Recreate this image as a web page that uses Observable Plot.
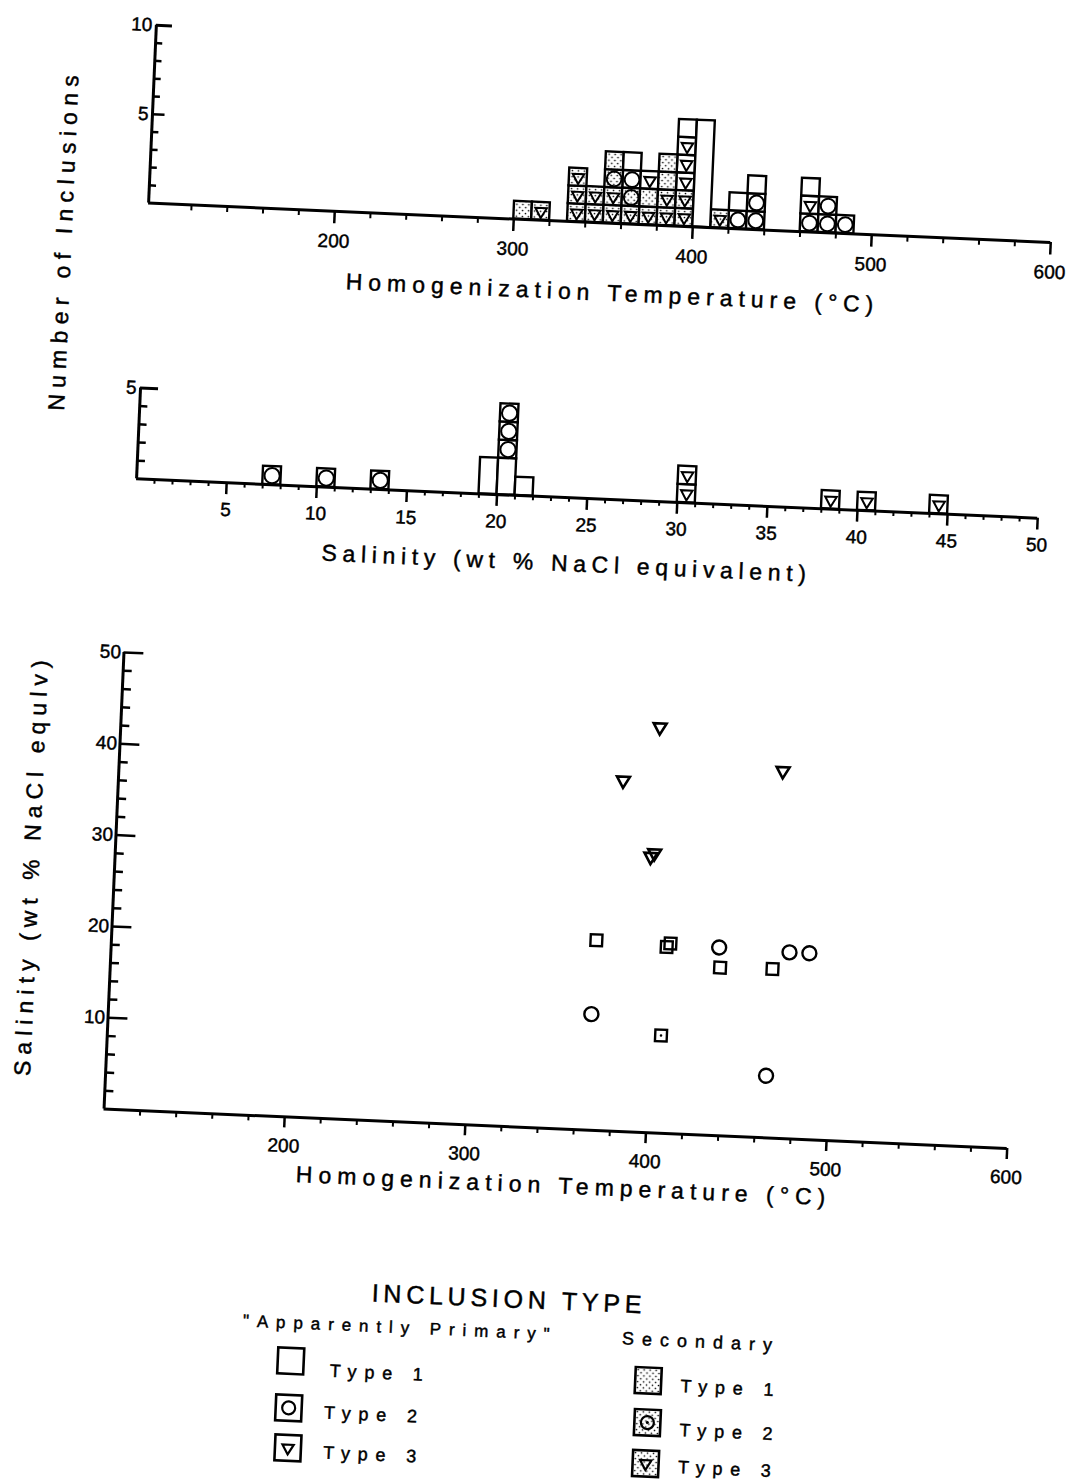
<!DOCTYPE html>
<html><head><meta charset="utf-8">
<script src="https://cdn.jsdelivr.net/npm/d3@7"></script>
<script src="https://cdn.jsdelivr.net/npm/@observablehq/plot@0.6"></script>
<style>
html,body{margin:0;padding:0;background:#fff;overflow:hidden;}
#fig{position:relative;width:1070px;height:1483px;transform:rotate(2.5deg);transform-origin:535px 741px;}
#fig text{stroke:black;stroke-width:0.45px;}
</style></head><body>
<svg width="0" height="0" style="position:absolute">
<defs>
<pattern id="stip" width="6" height="6" patternUnits="userSpaceOnUse">
<rect width="6" height="6" fill="white"/>
<circle cx="1.5" cy="1.5" r="0.85" fill="black"/>
<circle cx="4.5" cy="4.5" r="0.85" fill="black"/>
</pattern>
</defs></svg>
<div id="fig"></div>
<script>
// ---------- DATA ----------
// Panel 1: number of inclusions per 10 °C homogenization-temperature bin, cells listed bottom -> top
// P = apparently primary, S = secondary; 1 = type 1, 2 = type 2, 3 = type 3
const tempBins = [300, 310, 330, 340, 350, 360, 370, 380, 390, 400, 410, 420, 430, 460, 470, 480];
const tempStacks = [
  ["S1"], ["S3"], ["S3","S3","S3"], ["S3","S3"], ["S3","S3","S2","S1"], ["S3","S2","P2","P1"],
  ["S3","S1","P3"], ["S3","S3","S1","S1"], ["S3","S3","P3","P3","P3","P1"], ["P1","P1","P1","P1","P1","P1"],
  ["S3"], ["P2","P1"], ["P2","P2","P1"], ["P2","P3","P1"], ["P2","P2"], ["P2"]
];
// Panel 2: number of inclusions per 1 wt% salinity bin
const salBins = [7, 10, 13, 19, 20, 21, 30, 38, 40, 44];
const salStacks = [["P2"], ["P2"], ["P2"], ["P1","P1"], ["P1","P1","P2","P2","P2"], ["P1"], ["P3","P3"], ["P3"], ["P3"], ["P3"]];
// Panel 3: salinity vs homogenization temperature
const ptTemp = [398, 379, 467, 398, 396, 368, 407, 409, 436, 437, 466, 475, 486, 367, 406, 465];
const ptSal  = [44.4, 38.4, 40.2, 30.6, 30.2, 20.8, 20.4, 20.8, 20.6, 18.4, 18.5, 20.4, 20.4, 12.7, 10.7, 6.8];
const ptType = ["P3","P3","P3","P3","P3","P1","P1","P1","P2","P1","P1","P2","P2","P2","S1","P2"];
// Tick labels
const tempTicks = [200, 300, 400, 500, 600];
const salTicks = [5, 10, 15, 20, 25, 30, 35, 40, 45, 50];
const countTicks1 = [5, 10];
const countTicks2 = [5];
const salYTicks = [10, 20, 30, 40, 50];

// ---------- helpers ----------
const F = "'Liberation Sans', Arial, Helvetica, sans-serif";
const fig = document.getElementById("fig");
const baseStyle = {fontFamily: F, fontSize: "19px", background: "transparent", overflow: "visible", color: "black"};

function buildCells(bins, stacks, w) {
  const cells = [], runs = [];
  bins.forEach((b, i) => {
    let run = null;
    stacks[i].forEach((t, k) => {
      if (t === "P1") {
        if (run && run.y2 === k) run.y2 = k + 1;
        else { run = {x1: b, x2: b + w, y1: k, y2: k + 1}; runs.push(run); }
      } else {
        run = null;
        cells.push({x1: b, x2: b + w, y1: k, y2: k + 1, cx: b + w / 2, cy: k + 0.5, type: t});
      }
    });
  });
  return {cells, runs};
}

function histMarks({cells, runs}, rc, rt) {
  return [
    Plot.rect(cells.filter(d => d.type[0] === "P"), {x1: "x1", x2: "x2", y1: "y1", y2: "y2", fill: "white", stroke: "black", strokeWidth: 2.4}),
    Plot.rect(cells.filter(d => d.type[0] === "S"), {x1: "x1", x2: "x2", y1: "y1", y2: "y2", fill: "url(#stip)", stroke: "black", strokeWidth: 2.4}),
    Plot.rect(runs, {x1: "x1", x2: "x2", y1: "y1", y2: "y2", fill: "white", stroke: "black", strokeWidth: 2.4}),
    Plot.dot(cells.filter(d => d.type[1] === "2"), {x: "cx", y: "cy", r: rc, fill: "none", stroke: "black", strokeWidth: 2}),
    Plot.dot(cells.filter(d => d.type[1] === "3"), {x: "cx", y: "cy", symbol: "triangle", rotate: 180, r: rt, fill: "none", stroke: "black", strokeWidth: 2})
  ];
}

function place(node, top) {
  node.style.position = "absolute";
  node.style.left = "0px";
  node.style.top = top + "px";
  fig.appendChild(node);
}

// ---------- Panel 1 ----------
const h1 = buildCells(tempBins, tempStacks, 10);
const tempMinor = d3.range(120, 600, 20).filter(d => d % 100 !== 0);
const p1 = Plot.plot({
  width: 1070, height: 305, marginTop: 42, marginBottom: 85, marginLeft: 125, marginRight: 42,
  x: {domain: [96, 600], axis: null}, y: {domain: [0, 10], axis: null},
  style: baseStyle,
  marks: [
    ...histMarks(h1, 7.4, 4.3),
    Plot.ruleY([0], {x1: () => 96, x2: () => 600, strokeWidth: 3}),
    Plot.ruleX([96], {y1: () => 0, y2: () => 10, strokeWidth: 3}),
    Plot.ruleY(d3.range(1, 10), {x1: () => 96, x2: d => 96 + (d === 5 ? 7 : 4), strokeWidth: 2.5}),
    Plot.ruleY([10], {x1: () => 96, x2: () => 105, strokeWidth: 3}),
    Plot.ruleX(tempMinor, {y1: () => 0, y2: () => -0.33, strokeWidth: 2}),
    Plot.ruleX(tempTicks, {y1: () => 0, y2: () => -0.7, strokeWidth: 2.5}),
    Plot.text(tempTicks, {x: d => d, y: () => 0, dy: 30, text: d => String(d)}),
    Plot.text(countTicks1, {x: () => 96, y: d => d, dx: -4, textAnchor: "end", text: d => String(d)})
  ]
});
place(p1, 0);

// ---------- Panel 2 ----------
const h2 = buildCells(salBins, salStacks, 1);
const salMinor = d3.range(1, 50, 1).filter(d => d % 5 !== 0);
const p2 = Plot.plot({
  width: 1070, height: 215, marginTop: 35, marginBottom: 89, marginLeft: 125, marginRight: 43,
  x: {domain: [0, 50], axis: null}, y: {domain: [0, 5], axis: null},
  style: baseStyle,
  marks: [
    ...histMarks(h2, 7.6, 4.3),
    Plot.ruleY([0], {x1: () => 0, x2: () => 50, strokeWidth: 3}),
    Plot.ruleX([0], {y1: () => 0, y2: () => 5, strokeWidth: 3}),
    Plot.ruleY(d3.range(1, 5), {x1: () => 0, x2: () => 0.45, strokeWidth: 2.5}),
    Plot.ruleY([5], {x1: () => 0, x2: () => 1.0, strokeWidth: 3}),
    Plot.ruleX(salMinor, {y1: () => 0, y2: () => -0.25, strokeWidth: 2}),
    Plot.ruleX(salTicks, {y1: () => 0, y2: () => -0.65, strokeWidth: 2.5}),
    Plot.text(salTicks, {x: d => d, y: () => 0, dy: 27, text: d => String(d)}),
    Plot.text(countTicks2, {x: () => 0, y: d => d, dx: -4, textAnchor: "end", text: d => String(d)})
  ]
});
place(p2, 370);

// ---------- Panel 3 ----------
const pts = ptTemp.map((t, i) => ({t, s: ptSal[i], type: ptType[i]}));
const salYMinor = d3.range(2, 50, 2).filter(d => d % 10 !== 0);
const p3 = Plot.plot({
  width: 1070, height: 560, marginTop: 30, marginBottom: 73, marginLeft: 120, marginRight: 46,
  x: {domain: [100, 600], axis: null}, y: {domain: [0, 50], axis: null},
  style: baseStyle,
  marks: [
    Plot.ruleY([0], {x1: () => 100, x2: () => 600, strokeWidth: 3}),
    Plot.ruleX([100], {y1: () => 0, y2: () => 50, strokeWidth: 3}),
    Plot.ruleY(salYMinor, {x1: () => 100, x2: () => 105, strokeWidth: 2.5}),
    Plot.ruleY(salYTicks, {x1: () => 100, x2: () => 111, strokeWidth: 2.5}),
    Plot.ruleX(tempMinor, {y1: () => 0, y2: () => -0.6, strokeWidth: 2}),
    Plot.ruleX(tempTicks, {y1: () => 0, y2: () => -1.2, strokeWidth: 2.5}),
    Plot.text(tempTicks, {x: d => d, y: () => 0, dy: 29, text: d => String(d)}),
    Plot.text(salYTicks, {x: () => 100, y: d => d, dx: -3, textAnchor: "end", text: d => String(d)}),
    Plot.dot(pts.filter(d => d.type[1] === "1"), {x: "t", y: "s", symbol: "square", r: 6.6, fill: "none", stroke: "black", strokeWidth: 2.4}),
    Plot.dot(pts.filter(d => d.type === "S1"), {x: "t", y: "s", r: 1.3, fill: "black"}),
    Plot.dot(pts.filter(d => d.type[1] === "2"), {x: "t", y: "s", r: 7, fill: "none", stroke: "black", strokeWidth: 2.4}),
    Plot.dot(pts.filter(d => d.type[1] === "3"), {x: "t", y: "s", symbol: "triangle", rotate: 180, r: 4.8, fill: "none", stroke: "black", strokeWidth: 2.6})
  ]
});
place(p3, 640);

// ---------- Titles and legend (overlay) ----------
const ov = d3.create("svg").attr("width", 1070).attr("height", 1483)
  .style("position", "absolute").style("left", "0px").style("top", "0px").style("overflow", "visible");
function label(t, x, y, size, len, rot = 0) {
  ov.append("text").attr("transform", `translate(${x},${y}) rotate(${rot})`)
    .attr("text-anchor", "middle").attr("dominant-baseline", "central")
    .attr("font-family", F).attr("font-size", size).attr("fill", "black")
    .attr("textLength", len).attr("lengthAdjust", "spacing").text(t);
}
label("Number of Inclusions", 42, 264, 23, 336, -90);
label("Homogenization Temperature (°C)", 590, 290, 23, 528);
label("Salinity (wt % NaCl equivalent)", 556, 562, 23, 485);
label("Salinity (wt % NaCl equlv)", 37, 890, 23, 416, -90);
label("Homogenization Temperature (°C)", 580, 1184, 23, 530);
label("INCLUSION TYPE", 531, 1299, 25, 270);
label("\"Apparently Primary\"", 422, 1333, 17, 307);
label("Secondary", 723, 1334, 18, 150);

const legendItems = [
  {type: "P1", bx: 318, by: 1371, tx: 404, ty: 1379, name: "Type 1"},
  {type: "P2", bx: 318, by: 1418, tx: 400, ty: 1421, name: "Type 2"},
  {type: "P3", bx: 319, by: 1458, tx: 401, ty: 1461, name: "Type 3"},
  {type: "S1", bx: 676, by: 1375, tx: 755, ty: 1379, name: "Type 1"},
  {type: "S2", bx: 677, by: 1417, tx: 756, ty: 1423, name: "Type 2"},
  {type: "S3", bx: 677, by: 1458, tx: 756, ty: 1460, name: "Type 3"}
];
const triPath = d3.symbol(d3.symbolTriangle, 55)();
legendItems.forEach(it => {
  const g = ov.append("g").attr("transform", `translate(${it.bx},${it.by})`);
  g.append("rect").attr("x", -13).attr("y", -13).attr("width", 26).attr("height", 26)
    .attr("fill", it.type[0] === "S" ? "url(#stip)" : "white").attr("stroke", "black").attr("stroke-width", 2.6);
  if (it.type[1] === "2") {
    g.append("circle").attr("r", 6.5).attr("fill", "none").attr("stroke", "black").attr("stroke-width", 2.2);
    if (it.type[0] === "S") g.append("circle").attr("r", 1.5).attr("fill", "black");
  }
  if (it.type[1] === "3") {
    g.append("path").attr("d", triPath).attr("transform", "rotate(180)").attr("fill", "none").attr("stroke", "black").attr("stroke-width", 2.2);
  }
  label(it.name, it.tx, it.ty, 18, 93);
});
fig.appendChild(ov.node());
</script>
</body></html>
